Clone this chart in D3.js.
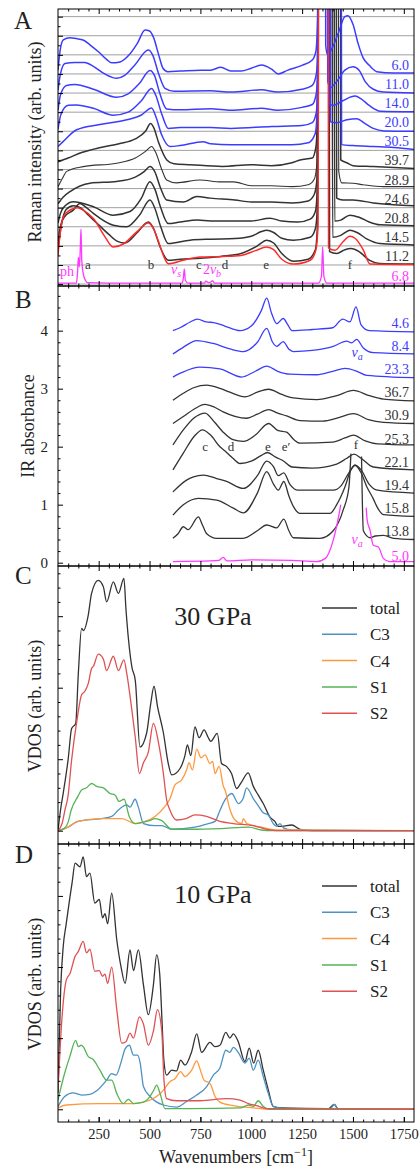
<!DOCTYPE html>
<html>
<head>
<meta charset="utf-8">
<script src="https://cdn.jsdelivr.net/npm/d3@7"></script>
<style>
  body { margin: 0; background: #fff; }
  svg text { font-family: "Liberation Serif", "DejaVu Serif", serif; }
</style>
</head>
<body>
<div id="chart"></div>
<script>
// ---------- data ----------
var waveDomain = [50, 1800];
var xTickValues = [250, 500, 750, 1000, 1250, 1500, 1750];

// A: Raman, [wavenumber, intensity above the spectrum's own baseline] (grid units)
var raman_6_0 = [[50,0.2],[60,1.2],[76,1.78],[109,1.9],[140,1.85],[173,1.78],[210,1.5],[250,1.15],[290,0.75],[314,0.58],[355,0.63],[400,1.0],[440,1.6],[478,2.3],[500,2.25],[520,1.9],[545,1.0],[566,0.3],[590,0.12],[650,0.15],[750,0.2],[800,0.2],[850,0.35],[900,0.15],[950,0.15],[1000,0.3],[1051,0.47],[1100,0.25],[1132,0.0],[1180,0.2],[1250,0.45],[1300,0.73],[1318,1.2],[1326,3],[1332,30],[1362,30],[1366,1.5],[1375,1.0],[1400,1.4],[1430,2.2],[1460,3.0],[1475,3.05],[1500,2.6],[1525,1.6],[1550,0.84],[1580,0.45],[1617,0.12],[1700,0.05],[1800,0.05]];
var raman_11_0 = [[50,0.15],[60,0.9],[84,1.55],[133,1.6],[182,1.6],[224,1.4],[280,1.0],[338,0.77],[378,0.93],[430,1.5],[494,2.25],[515,2.0],[545,1.0],[576,0.25],[620,0.1],[800,0.12],[900,0.05],[1050,0.17],[1130,0.05],[1250,0.2],[1300,0.4],[1320,1.0],[1328,3],[1334,30],[1372,30],[1376,0.6],[1390,0.3],[1420,0.6],[1460,1.2],[1500,1.38],[1530,1.2],[1560,0.6],[1600,0.2],[1650,0.05],[1800,0.0]];
var raman_14_0 = [[50,0.1],[62,0.9],[92,1.4],[133,1.45],[224,1.2],[338,0.78],[395,0.96],[450,1.5],[502,2.18],[525,1.9],[550,1.0],[584,0.17],[650,0.12],[800,0.18],[900,0.1],[1050,0.2],[1130,0.1],[1250,0.25],[1300,0.4],[1320,1.0],[1328,3],[1335,30],[1378,30],[1382,0.5],[1400,0.35],[1450,0.6],[1510,0.84],[1540,0.7],[1580,0.35],[1635,0.05],[1800,0.02]];
var raman_20_0 = [[50,0.1],[65,0.9],[100,1.36],[140,1.38],[224,1.2],[322,0.84],[395,1.0],[460,1.6],[510,2.24],[530,1.9],[560,0.9],[592,0.15],[650,0.2],[800,0.2],[900,0.15],[1100,0.25],[1250,0.3],[1300,0.45],[1320,1.0],[1328,3],[1336,30],[1385,30],[1389,0.5],[1420,0.45],[1470,0.6],[1518,0.66],[1560,0.4],[1600,0.15],[1652,0.02],[1800,0.0]];
var raman_30_5 = [[50,0.2],[76,0.47],[142,1.08],[256,1.35],[388,1.6],[460,1.85],[510,2.22],[530,1.8],[560,0.8],[600,0.2],[650,0.25],[763,0.45],[800,0.35],[900,0.3],[1000,0.3],[1100,0.3],[1200,0.3],[1280,0.4],[1315,0.9],[1327,3],[1335,30],[1440,30],[1444,0.3],[1500,0.25],[1600,0.2],[1700,0.15],[1800,0.05]];
var raman_39_7 = [[50,0.4],[100,0.6],[170,0.9],[260,1.15],[350,1.35],[430,1.6],[480,2.0],[505,2.4],[520,2.2],[545,1.4],[585,0.5],[620,0.3],[700,0.25],[857,0.16],[1000,0.25],[1100,0.2],[1200,0.35],[1240,0.5],[1300,0.6],[1318,1.2],[1326,3],[1334,30],[1436,30],[1440,0.5],[1470,0.35],[1500,0.2],[1600,0.15],[1800,0.05]];
var raman_28_9 = [[50,0.1],[70,0.5],[93,0.9],[174,1.15],[338,1.33],[430,1.6],[480,1.95],[510,2.2],[530,1.9],[560,1.0],[584,0.45],[633,0.3],[748,0.45],[850,0.35],[912,0.35],[1000,0.15],[1100,0.15],[1200,0.1],[1280,0.2],[1310,0.5],[1324,1.5],[1332,30],[1425,30],[1430,0.9],[1445,0.3],[1500,0.28],[1550,0.2],[1650,0.1],[1800,0.1]];
var raman_24_6 = [[50,0.2],[75,0.55],[109,0.84],[207,1.28],[338,1.37],[430,1.6],[475,1.9],[502,2.15],[525,1.9],[555,1.0],[584,0.4],[666,0.3],[732,0.58],[800,0.5],[920,0.4],[1000,0.3],[1100,0.3],[1200,0.25],[1280,0.35],[1310,0.7],[1324,1.6],[1332,30],[1415,30],[1420,0.5],[1450,0.4],[1500,0.4],[1600,0.25],[1700,0.15],[1800,0.1]];
var raman_20_8 = [[50,0.2],[62,0.7],[85,1.1],[125,1.31],[224,1.05],[322,0.61],[404,0.8],[460,1.5],[502,2.36],[525,2.0],[555,1.0],[592,0.17],[650,0.25],[735,0.35],[800,0.3],[900,0.3],[1000,0.3],[1092,0.45],[1150,0.3],[1230,0.25],[1290,0.4],[1315,0.8],[1325,2],[1332,30],[1405,30],[1410,0.3],[1440,0.35],[1485,0.61],[1530,0.5],[1580,0.25],[1633,0.1],[1800,0.05]];
var raman_14_5 = [[50,0.0],[58,0.8],[80,1.5],[125,1.87],[158,2.22],[190,2.0],[224,1.7],[322,1.08],[388,1.0],[450,1.6],[502,2.4],[525,2.0],[555,1.0],[592,0.12],[699,0.3],[800,0.35],[920,0.38],[1000,0.5],[1050,0.75],[1076,0.82],[1110,0.7],[1150,0.4],[1207,0.3],[1290,0.45],[1315,0.9],[1325,2],[1332,30],[1395,30],[1400,0.45],[1440,0.55],[1485,0.82],[1520,0.7],[1570,0.35],[1633,0.12],[1800,0.05]];
var raman_11_2 = [[50,0.8],[65,2.0],[90,2.9],[125,3.1],[160,3.0],[200,2.6],[250,2.1],[300,1.6],[340,1.25],[380,1.15],[440,1.7],[494,2.25],[520,1.9],[550,1.0],[592,0.25],[650,0.3],[750,0.35],[850,0.45],[950,0.6],[1030,1.0],[1076,1.3],[1110,1.15],[1150,0.6],[1207,0.2],[1280,0.3],[1315,0.8],[1325,2],[1331,30],[1380,30],[1385,0.7],[1420,0.6],[1460,0.8],[1490,0.86],[1530,0.7],[1580,0.25],[1630,0.08],[1800,0.05]];
var raman_red = [[50,0.5],[60,1.6],[80,2.6],[125,2.95],[145,3.0],[174,2.87],[224,2.43],[281,1.47],[322,0.94],[371,1.1],[437,1.73],[494,2.2],[519,1.9],[545,1.2],[568,0.5],[592,0.07],[666,0.25],[748,0.42],[860,0.45],[950,0.5],[1020,0.75],[1076,0.94],[1110,0.8],[1150,0.3],[1207,0.05],[1290,0.25],[1318,0.8],[1328,2],[1334,30],[1376,30],[1380,0.9],[1412,0.77],[1450,1.2],[1485,1.5],[1510,1.4],[1550,0.8],[1584,0.05],[1800,0.02]];
var raman_6_8 = [[50,0.05],[140,0.05],[146,0.6],[150,1.4],[155,0.9],[160,2.0],[163,2.87],[167,1.2],[175,0.5],[185,0.2],[195,0.08],[400,0.05],[660,0.05],[666,0.3],[671,0.8],[676,0.2],[690,0.05],[770,0.05],[776,0.15],[790,0.08],[803,0.12],[809,0.18],[820,0.05],[1330,0.05],[1345,0.4],[1351,1.95],[1357,0.4],[1372,0.05],[1800,0.05]];
var ramanBlueP = ["6.0", "11.0", "14.0", "20.0", "30.5"];
var ramanDarkP = ["39.7", "28.9", "24.6", "20.8", "14.5", "11.2"];
var ramanRefP = "6.8";
var ramanBands = ["a", "b", "c", "d", "e", "f"];
var ramanBandW = [197, 507, 743, 871, 1073, 1485];

// B: IR absorbance above each spectrum's own baseline (null = saturated, no data)
var ir_4_6 = [[615,0.0],[650,0.05],[700,0.15],[735,0.2],[780,0.15],[815,0.14],[870,0.08],[945,0.0],[1000,0.08],[1050,0.35],[1076,0.56],[1100,0.3],[1125,0.12],[1157,0.21],[1180,0.1],[1200,0.0],[1300,0.02],[1400,0.05],[1450,0.2],[1485,0.15],[1515,0.41],[1540,0.1],[1580,0.0],[1800,-0.02]];
var ir_8_4 = [[615,0.0],[660,0.1],[732,0.23],[813,0.18],[900,0.08],[962,0.04],[1030,0.2],[1076,0.44],[1105,0.2],[1125,0.13],[1157,0.21],[1185,0.08],[1207,0.04],[1300,0.06],[1403,0.13],[1469,0.22],[1493,0.19],[1518,0.25],[1551,0.1],[1600,0.02],[1800,0.0]];
var ir_23_3 = [[615,0.0],[660,0.08],[748,0.17],[846,0.14],[953,0.0],[1020,0.1],[1076,0.19],[1130,0.1],[1190,0.05],[1322,0.04],[1400,0.1],[1461,0.15],[1520,0.1],[1568,0.03],[1800,-0.01]];
var ir_36_7 = [[615,0.0],[666,0.12],[720,0.22],[780,0.26],[850,0.2],[895,0.14],[969,0.06],[1030,0.14],[1085,0.19],[1150,0.1],[1207,0.04],[1322,0.01],[1420,0.08],[1502,0.17],[1580,0.08],[1650,0.02],[1800,-0.01]];
var ir_30_9 = [[615,0.0],[666,0.12],[720,0.25],[772,0.33],[820,0.28],[862,0.2],[977,0.09],[1030,0.16],[1085,0.24],[1130,0.18],[1174,0.13],[1240,0.05],[1350,0.04],[1430,0.1],[1502,0.17],[1580,0.06],[1650,0.02],[1800,0.0]];
var ir_25_3 = [[615,0.03],[666,0.29],[720,0.5],[773,0.58],[820,0.42],[862,0.25],[910,0.12],[961,0.09],[1020,0.2],[1085,0.4],[1130,0.28],[1174,0.25],[1210,0.12],[1240,0.06],[1400,0.08],[1460,0.15],[1502,0.2],[1560,0.1],[1620,0.05],[1800,0.03]];
var ir_22_1 = [[615,0.0],[666,0.29],[720,0.58],[760,0.69],[800,0.6],[846,0.4],[870,0.33],[910,0.2],[945,0.11],[1000,0.15],[1050,0.25],[1080,0.3],[1120,0.22],[1160,0.15],[1200,0.05],[1300,0.03],[1420,0.1],[1470,0.2],[1505,0.27],[1540,0.2],[1600,0.05],[1800,0.0]];
var ir_19_4 = [[615,0.02],[680,0.22],[716,0.28],[765,0.31],[830,0.25],[879,0.2],[961,0.08],[1030,0.3],[1076,0.55],[1110,0.45],[1133,0.3],[1160,0.35],[1190,0.15],[1230,0.05],[1403,0.05],[1440,0.12],[1480,0.35],[1510,0.48],[1540,0.4],[1580,0.15],[1620,0.05],[1800,0.0]];
var ir_15_8 = [[615,0.02],[666,0.2],[740,0.31],[830,0.28],[912,0.14],[961,0.06],[1030,0.4],[1076,0.77],[1110,0.55],[1133,0.45],[1160,0.6],[1185,0.35],[1207,0.17],[1240,0.05],[1387,0.05],[1420,0.2],[1460,0.5],[1490,0.8],[1510,0.88],[1540,0.75],[1568,0.51],[1600,0.3],[1617,0.17],[1650,0.03],[1800,0.0]];
var ir_13_8 = [[615,0.02],[640,0.1],[666,0.22],[690,0.17],[740,0.39],[760,0.25],[781,0.1],[830,0.02],[960,0.02],[1030,0.15],[1076,0.25],[1125,0.2],[1160,0.35],[1185,0.15],[1207,0.03],[1338,0.02],[1403,0.15],[1452,0.51],[1480,0.9],[1490,1.48],[1515,null],[1542,1.43],[1551,0.15],[1584,0.03],[1610,0.06],[1649,0.07],[1700,0.02],[1800,0.0]];
var ir_5_0 = [[615,0.02],[800,0.03],[840,0.04],[862,0.09],[880,0.03],[1000,0.05],[1200,0.04],[1322,0.02],[1363,0.07],[1403,0.39],[1428,0.77],[1440,1.0],[1500,null],[1565,0.95],[1570,0.73],[1584,0.56],[1600,0.3],[1625,0.27],[1650,0.07],[1680,0.02],[1800,0.02]];
var irBlueP = ["4.6", "8.4", "23.3"];
var irDarkP = ["36.7", "30.9", "25.3", "22.1", "19.4", "15.8", "13.8"];
var irRefP = "5.0";
var irBands = ["c", "d", "e", "e\u2032", "f"];
var irBandW = [773, 900, 1082, 1171, 1515];

// C: VDOS at 30 GPa
var vdos30_total = [[50,0],[63,0.3],[76,0.53],[100,1.0],[117,1.43],[137,1.5],[150,2.2],[166,2.83],[175,2.8],[199,3.02],[215,3.32],[248,3.5],[273,3.41],[289,3.2],[322,3.48],[347,3.32],[374,3.53],[384,3.1],[388,2.95],[413,2.29],[430,2.1],[453,1.17],[486,1.37],[506,1.78],[522,2.02],[539,1.74],[568,1.37],[592,0.94],[609,0.78],[650,0.87],[674,1.05],[686,1.2],[703,1.05],[723,1.45],[744,1.3],[768,1.41],[789,1.3],[801,1.25],[833,1.36],[854,0.94],[878,0.9],[903,0.8],[928,0.59],[952,0.68],[985,0.81],[1010,0.62],[1034,0.5],[1059,0.38],[1092,0.19],[1116,0.13],[1133,0.06],[1150,0.06],[1199,0.08],[1240,0.02],[1300,0],[1800,0]];
var vdos30_C3 = [[50,0],[99,0.05],[148,0.13],[264,0.17],[314,0.2],[347,0.29],[388,0.36],[404,0.33],[429,0.44],[445,0.33],[470,0.1],[527,0.07],[560,0.07],[609,0.02],[724,0.05],[789,0.1],[822,0.13],[847,0.29],[871,0.43],[904,0.52],[937,0.38],[960,0.45],[977,0.6],[1010,0.45],[1034,0.35],[1059,0.25],[1084,0.22],[1108,0.1],[1125,0.06],[1141,0.1],[1158,0.04],[1200,0.01],[1800,0]];
var vdos30_C4 = [[50,0],[99,0.05],[148,0.13],[264,0.17],[363,0.17],[429,0.1],[478,0.13],[527,0.2],[576,0.34],[601,0.45],[625,0.64],[658,0.71],[682,0.85],[694,0.95],[711,0.85],[732,1.14],[753,1.02],[773,1.06],[797,0.94],[810,0.97],[822,0.8],[842,0.9],[863,0.62],[871,0.57],[896,0.29],[920,0.15],[953,0.1],[961,0.17],[978,0.1],[1051,0.05],[1117,0.01],[1800,0]];
var vdos30_S1 = [[50,0],[80,0.03],[100,0.12],[115,0.29],[148,0.48],[166,0.57],[190,0.6],[215,0.66],[240,0.62],[273,0.6],[306,0.52],[330,0.5],[350,0.41],[375,0.44],[400,0.2],[430,0.1],[470,0.12],[500,0.14],[527,0.17],[560,0.14],[609,0.02],[700,0.02],[850,0.03],[986,0.05],[1050,0.01],[1100,0],[1800,0]];
var vdos30_S2 = [[50,0],[70,0.1],[85,0.3],[99,0.48],[117,0.99],[144,1.56],[166,1.9],[182,1.95],[199,2.06],[215,2.27],[224,2.3],[248,2.47],[273,2.4],[289,2.24],[322,2.44],[347,2.24],[374,2.39],[388,2.2],[413,1.69],[430,1.3],[450,0.8],[470,0.95],[494,1.1],[519,1.5],[544,1.23],[568,0.8],[584,0.43],[600,0.29],[633,0.15],[680,0.17],[723,0.22],[780,0.2],[846,0.13],[912,0.1],[1010,0.07],[1076,0.02],[1125,0],[1800,0]];

// D: VDOS at 10 GPa
var vdos10_total = [[50,0.23],[63,1.68],[76,2.3],[90,2.6],[109,2.99],[120,3.2],[134,3.46],[158,3.41],[174,3.55],[190,3.27],[207,3.32],[231,2.9],[253,2.95],[269,2.69],[281,2.75],[294,2.61],[314,3.04],[339,2.38],[360,2.0],[380,1.77],[404,2.24],[421,1.95],[445,2.24],[470,1.75],[494,1.33],[519,1.75],[535,2.17],[550,1.9],[562,1.2],[570,0.7],[584,0.48],[609,0.55],[633,0.54],[653,0.69],[674,0.62],[707,0.81],[732,1.06],[756,0.8],[797,0.94],[822,0.88],[846,0.9],[875,1.08],[895,1.0],[912,1.06],[936,0.95],[969,0.67],[990,0.86],[1012,0.65],[1034,0.83],[1059,0.55],[1084,0.27],[1108,0.04],[1141,0.02],[1380,0.01],[1408,0.07],[1425,0.01],[1800,0]];
var vdos10_C3 = [[50,0.04],[83,0.18],[124,0.23],[166,0.2],[207,0.21],[240,0.26],[289,0.41],[314,0.5],[335,0.48],[359,0.65],[380,0.85],[401,0.9],[421,0.76],[441,0.76],[454,0.65],[470,0.32],[503,0.18],[568,0.06],[633,0.03],[682,0.11],[732,0.2],[781,0.32],[814,0.48],[846,0.58],[875,0.83],[895,0.8],[912,0.87],[936,0.8],[969,0.65],[990,0.72],[1010,0.55],[1034,0.69],[1059,0.46],[1084,0.22],[1108,0.04],[1158,0.01],[1390,0.01],[1408,0.07],[1425,0.01],[1800,0]];
var vdos10_C4 = [[50,0.02],[91,0.06],[256,0.08],[339,0.08],[421,0.08],[503,0.13],[544,0.2],[568,0.27],[601,0.39],[625,0.43],[653,0.53],[674,0.46],[707,0.55],[732,0.68],[750,0.55],[770,0.4],[790,0.38],[800,0.35],[822,0.18],[846,0.1],[912,0.05],[1010,0.02],[1100,0],[1800,0]];
var vdos10_S1 = [[50,0.13],[83,0.51],[108,0.74],[137,0.97],[150,0.88],[163,0.9],[174,0.88],[199,0.74],[223,0.7],[256,0.55],[289,0.41],[314,0.41],[339,0.22],[371,0.08],[396,0.14],[421,0.08],[470,0.1],[494,0.15],[519,0.26],[535,0.34],[552,0.22],[576,0.01],[700,0.01],[950,0.02],[986,0.06],[1010,0.04],[1034,0.12],[1059,0.04],[1092,0],[1800,0]];
var vdos10_S2 = [[50,0.27],[70,1.3],[91,1.82],[109,1.91],[134,2.15],[150,2.22],[174,2.36],[190,2.2],[207,2.25],[231,1.94],[253,1.95],[269,1.87],[281,1.9],[294,1.77],[314,2.0],[339,1.4],[363,0.93],[384,0.95],[404,1.07],[421,1.0],[450,1.3],[470,1.2],[494,0.9],[519,1.1],[539,1.4],[560,1.1],[571,0.41],[584,0.15],[633,0.12],[748,0.12],[879,0.15],[945,0.13],[986,0.08],[1027,0.05],[1076,0.01],[1800,0]];
var vdosNames = ["total", "C3", "C4", "S1", "S2"];

// ---------- drawing ----------
var BLUE = "#3c3cff", DARK = "#333333", RED = "#ff2b2b", MAGENTA = "#ff38ff";
var VCOL = ["#333333", "#4c92c3", "#ff993e", "#56b356", "#de5253"];

var svg = d3.select("#chart").append("svg").attr("width", 420).attr("height", 1167);
var x = d3.scaleLinear().domain(waveDomain).range([58, 414]);

var panels = {
    A: { top: 9, bottom: 286, domain: [-0.1, 14.4] },
    B: { top: 286, bottom: 566, domain: [-0.057, 4.77] },
    C: { top: 566, bottom: 844, domain: [-0.186, 3.702] },
    D: { top: 844, bottom: 1122, domain: [-0.179, 3.73] }
};
Object.keys(panels).forEach(function (k) {
    var p = panels[k];
    p.y = d3.scaleLinear().domain(p.domain).range([p.bottom, p.top]);
    svg.append("clipPath").attr("id", "clip" + k).append("rect")
        .attr("x", 58).attr("y", p.top).attr("width", 356).attr("height", p.bottom - p.top);
    p.g = svg.append("g").attr("clip-path", "url(#clip" + k + ")");
});

function lineFor(y, off) {
    return d3.line()
        .defined(function (d) { return d[1] !== null; })
        .x(function (d) { return x(d[0]); })
        .y(function (d) { return y(d[1] + off); })
        .curve(d3.curveMonotoneX);
}

function drawSpectrum(p, data, off, color, width, opacity) {
    p.g.append("path")
        .attr("d", lineFor(p.y, off)(data))
        .attr("fill", "none")
        .attr("stroke", color)
        .attr("stroke-width", width)
        .attr("stroke-opacity", opacity || 1)
        .attr("stroke-linejoin", "round");
}

function label(txt, px, py, color, size, anchor) {
    return svg.append("text").attr("x", px).attr("y", py)
        .attr("fill", color).attr("font-size", size)
        .attr("text-anchor", anchor || "middle").text(txt);
}

function nuLabel(pre, sub, px, py, color) {
    var t = svg.append("text").attr("x", px).attr("y", py).attr("fill", color)
        .attr("font-size", 14).attr("text-anchor", "middle");
    if (pre) t.append("tspan").text(pre);
    t.append("tspan").attr("font-style", "italic").text("\u03bd");
    t.append("tspan").attr("font-style", "italic").attr("font-size", 10).attr("dy", 3).text(sub);
}

// --- panel A ---
var pA = panels.A;
d3.range(0, 15).forEach(function (u) {
    pA.g.append("line").attr("x1", 58).attr("x2", 414)
        .attr("y1", pA.y(u)).attr("y2", pA.y(u))
        .attr("stroke", "#a0a0a0").attr("stroke-width", 1);
});
var ramanSet = [raman_39_7, raman_28_9, raman_24_6, raman_20_8, raman_14_5, raman_11_2];
ramanSet.forEach(function (d, i) {
    drawSpectrum(pA, d, 6 - i, DARK, i === 1 ? 1.1 : 1.5);
});
[raman_6_0, raman_11_0, raman_14_0, raman_20_0, raman_30_5].forEach(function (d, i) {
    drawSpectrum(pA, d, 11 - i, BLUE, 1.5);
});
drawSpectrum(pA, raman_red, 1, RED, 1.5);
drawSpectrum(pA, raman_6_8, 0, MAGENTA, 1.3);

ramanBlueP.forEach(function (t, i) { label(t, 409, pA.y(11 - i) - 4, BLUE, 14, "end"); });
ramanDarkP.forEach(function (t, i) { label(t, 409, pA.y(6 - i) - 4, DARK, 14, "end"); });
label(ramanRefP, 409, pA.y(0) - 3, MAGENTA, 14, "end");
ramanBands.forEach(function (t, i) { label(t, x(ramanBandW[i]), 269, DARK, 13); });
label("ph", x(94), 276, MAGENTA, 14);
nuLabel("", "s", x(630), 274, MAGENTA);
nuLabel("2", "b", x(807), 274, MAGENTA);

// --- panel B ---
var pB = panels.B;
var irSet = [ir_4_6, ir_8_4, ir_23_3, ir_36_7, ir_30_9, ir_25_3, ir_22_1, ir_19_4, ir_15_8, ir_13_8];
irSet.forEach(function (d, i) {
    drawSpectrum(pB, d, 4.0 - 0.4 * i, i < 3 ? BLUE : DARK, 1.3);
});
drawSpectrum(pB, ir_5_0, 0, MAGENTA, 1.3);
irBlueP.forEach(function (t, i) { label(t, 409, pB.y(4.0 - 0.4 * i) - 3, BLUE, 14, "end"); });
irDarkP.forEach(function (t, i) { label(t, 409, pB.y(2.8 - 0.4 * i) - 3, DARK, 14, "end"); });
label(irRefP, 409, pB.y(0) - 2, MAGENTA, 14, "end");
irBands.forEach(function (t, i) { label(t, x(irBandW[i]), i === 4 ? 449 : 450.5, DARK, 13); });
nuLabel("", "a", x(1520), 357, BLUE);
nuLabel("", "a", x(1520), 544, MAGENTA);

// --- panels C and D ---
function drawVdos(p, sets, title, titleY) {
    sets.forEach(function (d, i) { drawSpectrum(p, d, 0, VCOL[i], 1.3, 1); });
    label(title, 213, titleY, "#222", 26);
    vdosNames.forEach(function (n, i) {
        var ry = p.top + 42 + i * 26.3;
        svg.append("line").attr("x1", 322).attr("x2", 357).attr("y1", ry).attr("y2", ry)
            .attr("stroke", VCOL[i]).attr("stroke-width", 1.5);
        label(n, 370, ry + 6, "#222", 17, "start");
    });
}
drawVdos(panels.C, [vdos30_total, vdos30_C3, vdos30_C4, vdos30_S1, vdos30_S2], "30 GPa", 625);
drawVdos(panels.D, [vdos10_total, vdos10_C3, vdos10_C4, vdos10_S1, vdos10_S2], "10 GPa", 903);

// --- axes, frames, ticks ---
var xMinor = d3.range(100, 1800, 50).filter(function (v) { return v % 250 !== 0; });
function tickAxis(axis, g) {
    g.call(axis);
    g.select(".domain").remove();
    g.selectAll("line").attr("stroke", "#000");
}
Object.keys(panels).forEach(function (k) {
    var p = panels[k];
    [[d3.axisTop, p.top], [d3.axisBottom, p.bottom]].forEach(function (a) {
        tickAxis(a[0](x).tickValues(xTickValues).tickSizeInner(-5).tickSizeOuter(0).tickFormat(""),
            svg.append("g").attr("transform", "translate(0," + a[1] + ")"));
        tickAxis(a[0](x).tickValues(xMinor).tickSizeInner(-2.5).tickSizeOuter(0).tickFormat(""),
            svg.append("g").attr("transform", "translate(0," + a[1] + ")"));
    });
});

function notInteger(v) { return Math.abs(v - Math.round(v)) > 0.01; }
function yTicks(p, major, minor, withLabels) {
    var ax = d3.axisLeft(p.y).tickValues(major).tickSizeInner(-5).tickSizeOuter(0).tickPadding(10)
        .tickFormat(withLabels ? d3.format("d") : "");
    var g = svg.append("g").attr("transform", "translate(58,0)");
    tickAxis(ax, g);
    g.selectAll("text").attr("font-size", 15).attr("fill", "#222")
        .style("font-family", "'Liberation Serif', serif");
    tickAxis(d3.axisLeft(p.y).tickValues(minor).tickSizeInner(-2.5).tickSizeOuter(0).tickFormat(""),
        svg.append("g").attr("transform", "translate(58,0)"));
}
yTicks(pA, d3.range(0, 15), d3.range(0.5, 14.5, 1), false);
yTicks(pB, [0, 1, 2, 3, 4], d3.range(0.2, 4.7, 0.2).filter(notInteger), true);
[panels.C, panels.D].forEach(function (p) {
    yTicks(p, [0, 1, 2, 3], d3.range(0.2, 3.7, 0.2).filter(notInteger), false);
});

// bottom tick labels
var xb = d3.axisBottom(x).tickValues(xTickValues).tickSizeInner(-5).tickSizeOuter(0).tickPadding(7)
    .tickFormat(d3.format("d"));
var gx = svg.append("g").attr("transform", "translate(0,1122)");
tickAxis(xb, gx);
gx.selectAll("text").attr("font-size", 14.5).attr("fill", "#222")
    .style("font-family", "'Liberation Serif', serif");

Object.keys(panels).forEach(function (k) {
    var p = panels[k];
    svg.append("rect").attr("x", 58).attr("y", p.top).attr("width", 356).attr("height", p.bottom - p.top)
        .attr("fill", "none").attr("stroke", "#000").attr("stroke-width", 1);
});

// panel letters and axis titles
label("A", 14, 29, "#222", 25, "start");
label("B", 15, 308, "#222", 25, "start");
label("C", 15, 584, "#222", 25, "start");
label("D", 15, 863, "#222", 25, "start");

function yTitle(txt, px, py) {
    svg.append("text").attr("transform", "translate(" + px + "," + py + ") rotate(-90)")
        .attr("text-anchor", "middle").attr("font-size", 18).attr("fill", "#222").text(txt);
}
yTitle("Raman intensity (arb. units)", 41, 142);
yTitle("IR absorbance", 34, 426);
yTitle("VDOS (arb. units)", 41, 706);
yTitle("VDOS (arb. units)", 41, 984);

var xt = svg.append("text").attr("x", 236).attr("y", 1163).attr("text-anchor", "middle")
    .attr("font-size", 18).attr("fill", "#222");
xt.append("tspan").text("Wavenumbers [cm");
xt.append("tspan").attr("font-size", 12).attr("dy", -7).text("\u22121");
xt.append("tspan").attr("dy", 7).text("]");
</script>
</body>
</html>
